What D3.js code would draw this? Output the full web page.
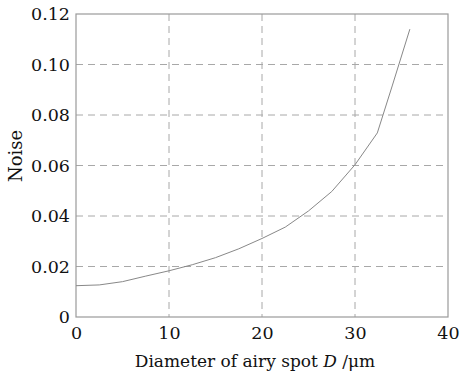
<!DOCTYPE html>
<html><head><meta charset="utf-8">
<script src="https://cdn.jsdelivr.net/npm/d3@7"></script>
<style>body{margin:0;background:#fff}svg{display:block}</style>
</head><body><svg id="c" width="463" height="374"></svg>
<script>
const diameters = [0, 2.5, 5, 7.5, 10, 12.5, 15, 17.5, 20, 22.5, 25, 27.5, 30, 32.4, 34, 35.9];
const noise = [0.0124, 0.0127, 0.0140, 0.0162, 0.0183, 0.0207, 0.0235, 0.0270, 0.0311, 0.0356, 0.0420, 0.0497, 0.0603, 0.0729, 0.0915, 0.114];
const xTicks = [0, 10, 20, 30, 40];
const yTicks = [0, 0.02, 0.04, 0.06, 0.08, 0.10, 0.12];
const yTickLabels = ["0", "0.02", "0.04", "0.06", "0.08", "0.10", "0.12"];
const xLabel = "Diameter of airy spot ";
const yLabel = "Noise";

const svg = d3.select("#c");
const L = 76, R = 448, T = 14, B = 317;
const x = d3.scaleLinear().domain([0, 40]).range([L, R]);
const y = d3.scaleLinear().domain([0, 0.12]).range([B, T]);
const font = "DejaVu Serif";
const grid = "#a8a8a8";

svg.append("g").selectAll("line").data(yTicks.slice(1, -1)).join("line")
  .attr("x1", L).attr("x2", R).attr("y1", d => y(d)).attr("y2", d => y(d))
  .attr("stroke", grid).attr("stroke-dasharray", "7,5").attr("stroke-width", 1);
svg.append("g").selectAll("line").data(xTicks.slice(1, -1)).join("line")
  .attr("y1", T).attr("y2", B).attr("x1", d => x(d)).attr("x2", d => x(d))
  .attr("stroke", grid).attr("stroke-dasharray", "7,5").attr("stroke-width", 1);

svg.append("rect").attr("x", L).attr("y", T).attr("width", R - L).attr("height", B - T)
  .attr("fill", "none").attr("stroke", "#9a9a9a").attr("stroke-width", 1.2);

const xa = svg.append("g").attr("transform", `translate(0,${B})`)
  .call(d3.axisBottom(x).tickValues(xTicks).tickSize(0).tickPadding(10).tickFormat(d3.format("d")));
const ya = svg.append("g").attr("transform", `translate(${L},0)`)
  .call(d3.axisLeft(y).tickValues(yTicks).tickSize(0).tickPadding(6).tickFormat((d, i) => yTickLabels[i]));
[xa, ya].forEach(a => {
  a.select(".domain").remove();
  a.attr("font-family", font).attr("font-size", 17.5);
  a.selectAll("text").attr("fill", "#111");
});

svg.append("path").datum(diameters.map((d, i) => [d, noise[i]]))
  .attr("fill", "none").attr("stroke", "#888").attr("stroke-width", 1)
  .attr("d", d3.line().x(d => x(d[0])).y(d => y(d[1])));

const xt = svg.append("text").attr("x", 255).attr("y", 367).attr("text-anchor", "middle")
  .attr("font-family", font).attr("font-size", 17).attr("fill", "#111");
xt.append("tspan").text(xLabel);
xt.append("tspan").attr("font-style", "italic").text("D");
xt.append("tspan").text(" /μm");

svg.append("text").attr("transform", "translate(22,156) rotate(-90)").attr("text-anchor", "middle")
  .attr("font-family", font).attr("font-size", 18).attr("fill", "#111").text(yLabel);
</script></body></html>
